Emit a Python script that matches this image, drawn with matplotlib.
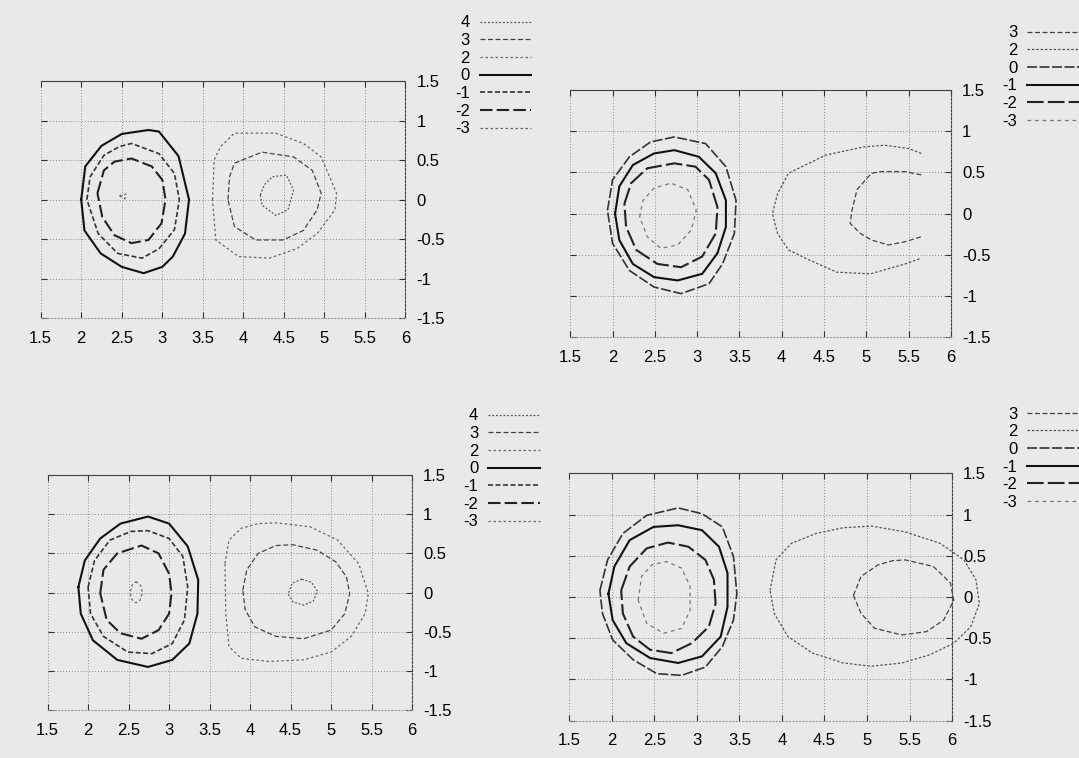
import matplotlib
matplotlib.use('Agg')
import matplotlib.pyplot as plt

plt.rcParams['font.family'] = ['Liberation Sans', 'DejaVu Sans']
plt.rcParams['axes.unicode_minus'] = False

# levels shown in the legends
levels_a = ['4', '3', '2', '0', '-1', '-2', '-3']
levels_b = ['3', '2', '0', '-1', '-2', '-3']

xticks = [1.5, 2, 2.5, 3, 3.5, 4, 4.5, 5, 5.5, 6]
xlabels = ['1.5', '2', '2.5', '3', '3.5', '4', '4.5', '5', '5.5', '6']
yticks = [-1.5, -1, -0.5, 0, 0.5, 1, 1.5]
ylabels = ['-1.5', '-1', '-0.5', '0', '0.5', '1', '1.5']

# top-left panel: contour level, x, y, closed
tl_lev = ['0', '-1', '-2', '-3', '2', '3', '4']
tl_x = [
    [2.0, 2.05, 2.25, 2.5, 2.83, 2.96, 3.2, 3.33, 3.28, 3.13, 3.0, 2.77, 2.5, 2.24, 2.04],
    [2.07, 2.11, 2.28, 2.47, 2.62, 2.96, 3.15, 3.21, 3.15, 2.96, 2.75, 2.45, 2.21],
    [2.2, 2.28, 2.41, 2.62, 2.87, 3.0, 3.04, 2.99, 2.83, 2.62, 2.41, 2.26],
    [2.47, 2.55, 2.54],
    [3.62, 3.64, 3.72, 3.89, 4.4, 4.74, 4.96, 5.15, 5.13, 4.91, 4.66, 4.32, 3.94, 3.66],
    [3.81, 3.83, 3.89, 4.23, 4.62, 4.85, 4.96, 4.91, 4.74, 4.49, 4.15, 3.89],
    [4.21, 4.26, 4.36, 4.53, 4.62, 4.55, 4.4, 4.23],
]
tl_y = [
    [0.0, 0.42, 0.68, 0.83, 0.88, 0.86, 0.55, 0.0, -0.43, -0.72, -0.85, -0.93, -0.85, -0.68, -0.39],
    [0.0, 0.29, 0.56, 0.67, 0.71, 0.58, 0.33, 0.0, -0.38, -0.62, -0.74, -0.68, -0.43],
    [0.08, 0.37, 0.48, 0.52, 0.42, 0.25, 0.0, -0.3, -0.51, -0.55, -0.45, -0.22],
    [0.05, 0.07, 0.01],
    [0.0, 0.5, 0.67, 0.84, 0.84, 0.71, 0.54, 0.08, -0.13, -0.43, -0.62, -0.74, -0.72, -0.51],
    [0.0, 0.29, 0.46, 0.6, 0.54, 0.37, 0.08, -0.13, -0.39, -0.51, -0.51, -0.34],
    [0.06, 0.19, 0.29, 0.31, 0.12, -0.13, -0.2, -0.07],
]
tl_closed = [True] * 7

# top-right panel
tr_lev = ['0', '-1', '-2', '-3', '2', '3']
tr_x = [
    [1.94, 2.0, 2.2, 2.45, 2.73, 3.10, 3.34, 3.46, 3.44, 3.30, 3.14, 2.81, 2.49, 2.20, 2.0],
    [2.03, 2.08, 2.24, 2.49, 2.73, 3.02, 3.22, 3.34, 3.34, 3.24, 3.06, 2.77, 2.49, 2.24, 2.08],
    [2.14, 2.22, 2.41, 2.73, 2.98, 3.14, 3.24, 3.22, 3.06, 2.81, 2.53, 2.28, 2.16],
    [2.32, 2.36, 2.49, 2.69, 2.89, 2.99, 2.93, 2.77, 2.57, 2.41],
    [5.65, 5.5, 5.22, 4.97, 4.52, 4.24, 4.08, 3.95, 3.89, 3.95, 4.08, 4.32, 4.65, 5.05, 5.46, 5.65],
    [5.65, 5.46, 5.18, 5.06, 4.89, 4.83, 4.81, 4.93, 5.06, 5.26, 5.46, 5.65],
]
tr_y = [
    [0.04, 0.41, 0.69, 0.87, 0.93, 0.85, 0.57, 0.16, -0.24, -0.61, -0.85, -0.97, -0.89, -0.69, -0.36],
    [0.0, 0.33, 0.59, 0.73, 0.77, 0.69, 0.49, 0.16, -0.16, -0.48, -0.73, -0.81, -0.77, -0.61, -0.32],
    [0.12, 0.37, 0.55, 0.61, 0.57, 0.41, 0.08, -0.24, -0.52, -0.65, -0.61, -0.44, -0.16],
    [-0.04, 0.16, 0.31, 0.37, 0.29, 0.04, -0.2, -0.38, -0.42, -0.28],
    [0.73, 0.79, 0.83, 0.81, 0.71, 0.57, 0.49, 0.24, 0.0, -0.24, -0.44, -0.56, -0.71, -0.73, -0.61, -0.54],
    [0.47, 0.51, 0.51, 0.49, 0.29, 0.04, -0.12, -0.24, -0.32, -0.38, -0.34, -0.28],
]
tr_closed = [True, True, True, True, False, False]

# bottom-left panel
bl_lev = ['0', '-1', '-2', '-3', '2', '3', '4']
bl_x = [
    [1.88, 1.96, 2.15, 2.4, 2.74, 3.0, 3.23, 3.36, 3.35, 3.25, 3.04, 2.74, 2.36, 2.06, 1.91],
    [2.0, 2.08, 2.27, 2.53, 2.74, 3.0, 3.17, 3.23, 3.19, 3.04, 2.79, 2.49, 2.19, 2.03],
    [2.15, 2.19, 2.36, 2.66, 2.87, 3.0, 3.03, 3.0, 2.87, 2.66, 2.4, 2.23],
    [2.59, 2.65, 2.67, 2.64, 2.59, 2.54, 2.52, 2.54],
    [3.69, 3.74, 3.89, 4.1, 4.32, 4.74, 5.08, 5.34, 5.46, 5.42, 5.25, 5.0, 4.66, 4.23, 3.89, 3.74, 3.7],
    [3.91, 3.96, 4.1, 4.32, 4.53, 4.83, 5.06, 5.19, 5.23, 5.17, 5.0, 4.66, 4.32, 4.06, 3.94],
    [4.64, 4.76, 4.83, 4.78, 4.66, 4.53, 4.47, 4.52],
]
bl_y = [
    [0.07, 0.41, 0.69, 0.88, 0.97, 0.88, 0.59, 0.16, -0.27, -0.65, -0.86, -0.95, -0.86, -0.61, -0.27],
    [0.07, 0.41, 0.67, 0.78, 0.79, 0.69, 0.46, 0.07, -0.35, -0.65, -0.78, -0.76, -0.56, -0.27],
    [-0.01, 0.29, 0.5, 0.6, 0.5, 0.24, -0.01, -0.27, -0.48, -0.59, -0.52, -0.35],
    [0.14, 0.09, 0.0, -0.1, -0.13, -0.09, 0.0, 0.09],
    [0.37, 0.67, 0.82, 0.88, 0.89, 0.84, 0.67, 0.37, -0.01, -0.27, -0.56, -0.76, -0.86, -0.88, -0.84, -0.69, -0.27],
    [0.03, 0.29, 0.5, 0.6, 0.61, 0.54, 0.39, 0.2, -0.01, -0.27, -0.48, -0.59, -0.56, -0.44, -0.22],
    [0.17, 0.13, 0.02, -0.11, -0.16, -0.12, -0.02, 0.12],
]
bl_closed = [True] * 7

# bottom-right panel
br_lev = ['0', '-1', '-2', '-3', '2', '3']
br_x = [
    [1.86, 1.95, 2.13, 2.41, 2.78, 3.06, 3.3, 3.43, 3.47, 3.43, 3.3, 3.1, 2.82, 2.53, 2.25, 2.01, 1.89],
    [1.96, 2.03, 2.21, 2.49, 2.78, 3.06, 3.26, 3.36, 3.36, 3.28, 3.06, 2.78, 2.45, 2.17, 2.01],
    [2.11, 2.21, 2.41, 2.66, 2.9, 3.1, 3.2, 3.22, 3.14, 2.94, 2.7, 2.45, 2.25, 2.13],
    [2.31, 2.35, 2.47, 2.64, 2.82, 2.92, 2.92, 2.82, 2.61, 2.41],
    [3.86, 3.93, 4.11, 4.4, 4.72, 5.05, 5.45, 5.86, 6.14, 6.28, 6.32, 6.22, 6.02, 5.74, 5.41, 5.05, 4.72, 4.36, 4.07, 3.91],
    [4.84, 4.93, 5.13, 5.3, 5.45, 5.78, 5.98, 6.02, 5.9, 5.7, 5.41, 5.09, 4.93],
]
br_y = [
    [0.08, 0.45, 0.77, 0.99, 1.08, 1.01, 0.85, 0.49, 0.04, -0.28, -0.6, -0.85, -0.95, -0.93, -0.76, -0.52, -0.2],
    [0.04, 0.37, 0.69, 0.85, 0.87, 0.81, 0.61, 0.29, -0.12, -0.48, -0.72, -0.8, -0.74, -0.56, -0.28],
    [0.08, 0.37, 0.59, 0.66, 0.61, 0.45, 0.21, -0.08, -0.36, -0.56, -0.68, -0.64, -0.48, -0.2],
    [-0.04, 0.25, 0.39, 0.43, 0.35, 0.13, -0.16, -0.38, -0.44, -0.32],
    [0.08, 0.45, 0.65, 0.77, 0.84, 0.86, 0.79, 0.65, 0.45, 0.21, -0.08, -0.36, -0.56, -0.7, -0.8, -0.84, -0.8, -0.68, -0.48, -0.2],
    [0.02, 0.25, 0.39, 0.44, 0.45, 0.37, 0.17, -0.04, -0.28, -0.42, -0.46, -0.38, -0.2],
]
br_closed = [True] * 6

# line style per level (gnuplot mono line types)
style_a = {
    '4': dict(ls=(0, (1.5, 1.5)), lw=0.9, color='#555555'),
    '3': dict(ls=(0, (4, 2)), lw=0.9, color='#444444'),
    '2': dict(ls=(0, (2, 2)), lw=0.9, color='#666666'),
    '0': dict(ls='-', lw=1.5, color='#111111'),
    '-1': dict(ls=(0, (3, 1.5)), lw=1.2, color='#333333'),
    '-2': dict(ls=(0, (6, 2)), lw=1.5, color='#222222'),
    '-3': dict(ls=(0, (2, 2)), lw=0.9, color='#666666'),
}
style_b = {
    '3': dict(ls=(0, (4, 2)), lw=0.9, color='#444444'),
    '2': dict(ls=(0, (2, 1.5)), lw=0.9, color='#555555'),
    '0': dict(ls=(0, (6, 1.5)), lw=1.2, color='#333333'),
    '-1': dict(ls='-', lw=1.5, color='#111111'),
    '-2': dict(ls=(0, (8, 2)), lw=1.5, color='#222222'),
    '-3': dict(ls=(0, (3, 3)), lw=0.9, color='#777777'),
}

bg = '#e9e9e9'
fs = 12
fig = plt.figure(figsize=(10.79, 7.58), dpi=100, facecolor=bg)

panels = [
    # axes rect, contours, legend levels, styles, legend anchor (figure coords)
    ([0.0377, 0.5801, 0.3381, 0.3131], tl_lev, tl_x, tl_y, tl_closed, levels_a, style_a, (0.4925, 0.9796)),
    ([0.5285, 0.5550, 0.3528, 0.3263], tr_lev, tr_x, tr_y, tr_closed, levels_b, style_b, (1.0, 0.9664)),
    ([0.0441, 0.0633, 0.3378, 0.3100], bl_lev, bl_x, bl_y, bl_closed, levels_a, style_a, (0.5005, 0.4611)),
    ([0.5276, 0.0492, 0.3548, 0.3264], br_lev, br_x, br_y, br_closed, levels_b, style_b, (1.0, 0.4637)),
]

for rect, lev, xs, ys, closed, leg_levels, style, anchor in panels:
    ax = fig.add_axes(rect)
    ax.set_facecolor('none')
    ax.set_xlim(1.5, 6)
    ax.set_ylim(-1.5, 1.5)
    ax.set_xticks(xticks)
    ax.set_xticklabels(xlabels)
    ax.set_yticks(yticks)
    ax.set_yticklabels(ylabels)
    ax.yaxis.tick_right()
    ax.tick_params(direction='in', top=True, bottom=True, left=True, right=True,
                   labelleft=False, labelright=True, length=4, width=0.8,
                   color='#333333', labelsize=fs)
    ax.tick_params(axis='x', pad=9)
    ax.tick_params(axis='y', pad=8)
    ax.grid(True, ls=(0, (1, 2)), lw=0.7, color='#8a8a8a')
    ax.set_axisbelow(True)
    # gnuplot-ish border: dotted top/right, faint left/bottom
    ax.spines['top'].set_linestyle((0, (1, 1)))
    ax.spines['top'].set_color('#444444')
    ax.spines['right'].set_linestyle((0, (2, 1.5)))
    ax.spines['right'].set_color('#444444')
    ax.spines['left'].set_visible(False)
    ax.spines['bottom'].set_linestyle((0, (1, 2)))
    ax.spines['bottom'].set_color('#999999')

    handles = {}
    for lv, x, y, c in zip(lev, xs, ys, closed):
        if c:
            x = list(x) + [x[0]]
            y = list(y) + [y[0]]
        line, = ax.plot(x, y, clip_on=False, **style[lv])
        handles[lv] = line

    ax.legend([handles[lv] for lv in leg_levels], leg_levels,
              loc='upper right', bbox_to_anchor=anchor, bbox_transform=fig.transFigure,
              markerfirst=False, frameon=False, borderpad=0, borderaxespad=0,
              handlelength=3.1, handletextpad=0.6, labelspacing=0.16, fontsize=fs)

plt.savefig('out.png', dpi=100, facecolor=bg)
plt.close('all')
